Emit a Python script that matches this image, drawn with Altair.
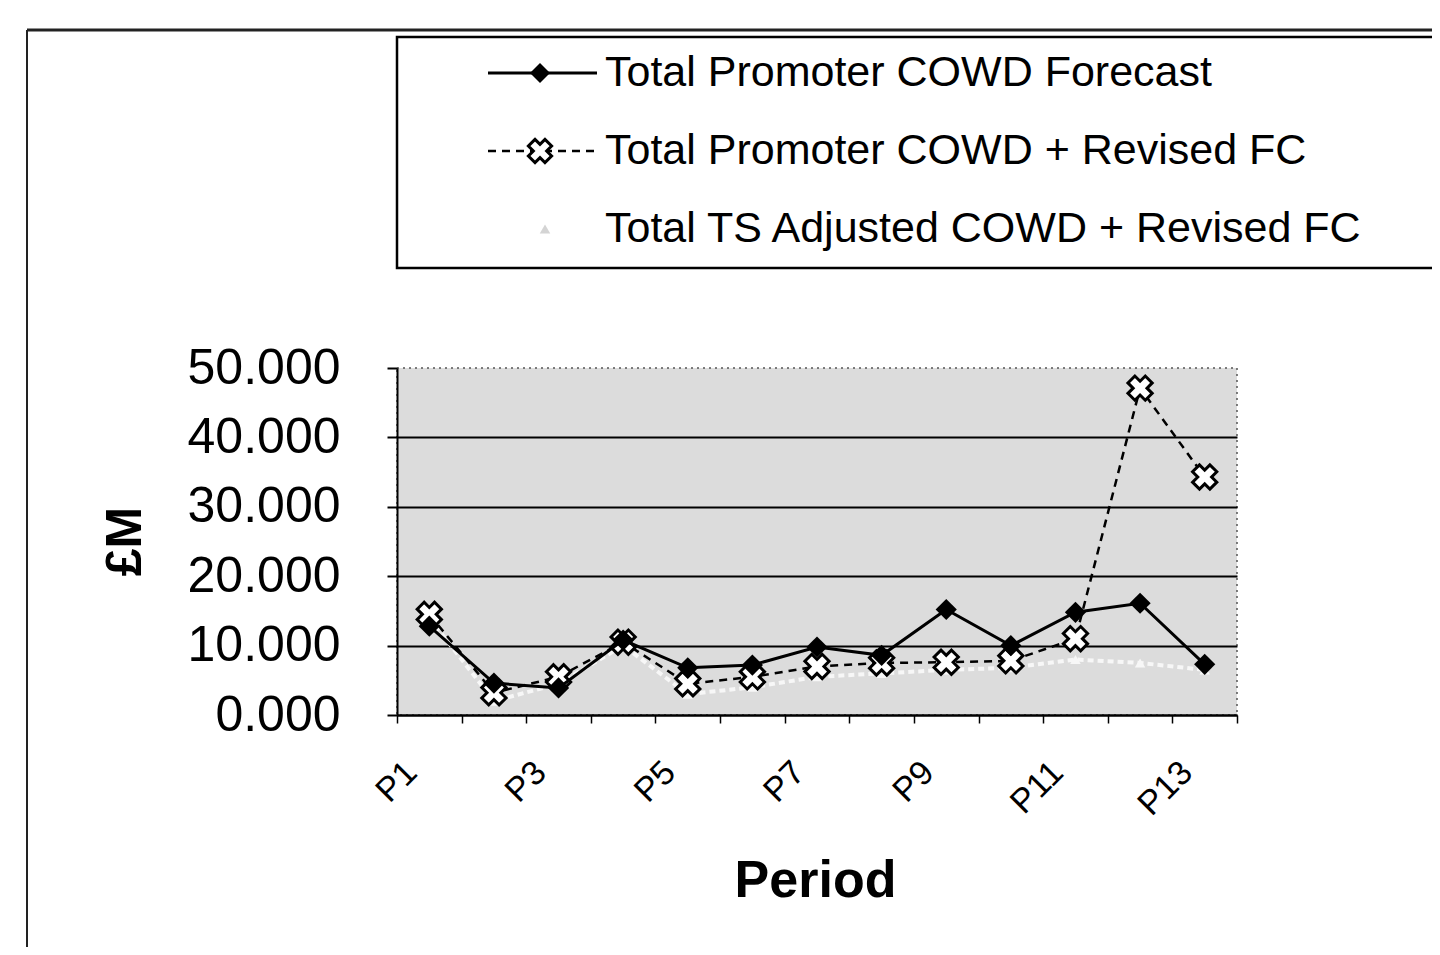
import altair as alt
import pandas as pd

# ---- data ----
periods = ["P1", "P2", "P3", "P4", "P5", "P6", "P7", "P8", "P9", "P10", "P11", "P12", "P13"]
forecast = [12.8, 4.6, 3.9, 10.8, 6.8, 7.2, 9.8, 8.6, 15.2, 10.0, 14.8, 16.1, 7.3]
revised = [14.5, 3.2, 5.5, 10.5, 4.5, 5.5, 7.0, 7.5, 7.6, 7.8, 11.0, 47.1, 34.3]
ts_adjusted = [14.0, 2.0, 4.5, 10.0, 3.0, 4.0, 5.5, 6.0, 6.5, 6.8, 8.0, 7.5, 6.5]
series_names = [
    "Total Promoter COWD Forecast",
    "Total Promoter COWD + Revised FC",
    "Total TS Adjusted COWD + Revised FC",
]
y_ticks = [0, 10, 20, 30, 40, 50]

FONT = "Liberation Sans"


def frame(vals):
    return pd.DataFrame({"period": periods, "value": vals})


one = pd.DataFrame({"k": [0]})

x_enc = alt.X(
    "period:N",
    sort=periods,
    bandPosition=0.5,
    scale=alt.Scale(type="band", domain=periods, paddingInner=0, paddingOuter=0),
    axis=alt.Axis(
        title="Period",
        titleFont=FONT,
        titleFontSize=52,
        titleFontWeight="bold",
        titleColor="black",
        titleX=418,
        titleY=165,
        titleAlign="center",
        titleBaseline="middle",
        labelAngle=-45,
        labelFont=FONT,
        labelFontSize=34,
        labelColor="black",
        labelPadding=32,
        labelOffset=-30,
        labelExpr="toNumber(slice(datum.label, 1)) % 2 == 1 ? datum.label : ''",
        tickBand="extent",
        tickSize=8,
        tickColor="black",
        tickWidth=1.5,
        domainColor="black",
        domainWidth=2,
        grid=False,
    ),
)

y_enc = alt.Y(
    "value:Q",
    scale=alt.Scale(domain=[0, 50], nice=False),
    axis=alt.Axis(
        values=y_ticks,
        format=".3f",
        title="£M",
        titleFont=FONT,
        titleFontSize=50,
        titleFontWeight="bold",
        titleColor="black",
        titleX=-272,
        titleY=173,
        titleAngle=-90,
        titleAlign="center",
        titleBaseline="middle",
        labelFont=FONT,
        labelFontSize=50,
        labelColor="black",
        labelPadding=47,
        tickSize=10,
        tickColor="black",
        tickWidth=2,
        domainColor="black",
        domainWidth=2,
        grid=True,
        gridColor="black",
        gridWidth=1.8,
        gridOpacity={"condition": {"test": "datum.value >= 50", "value": 0}, "value": 1},
    ),
)

ts_line = alt.Chart(frame(ts_adjusted)).mark_line(
    color="#f7f7f7", strokeWidth=4, strokeDash=[6, 4]
).encode(x=x_enc, y=y_enc)
ts_pts = alt.Chart(frame(ts_adjusted)).mark_point(
    shape="triangle-up", filled=True, color="#f7f7f7", size=110, opacity=1
).encode(x=x_enc, y=y_enc)

rev_line = alt.Chart(frame(revised)).mark_line(
    color="black", strokeWidth=2.5, strokeDash=[8, 6]
).encode(x=x_enc, y=y_enc)
rev_pts = alt.Chart(frame(revised)).mark_point(
    shape="cross", angle=45, filled=True, fill="white", stroke="black",
    strokeWidth=3, size=600, opacity=1
).encode(x=x_enc, y=y_enc)

fc_line = alt.Chart(frame(forecast)).mark_line(
    color="black", strokeWidth=3
).encode(x=x_enc, y=y_enc)
fc_pts = alt.Chart(frame(forecast)).mark_point(
    shape="diamond", filled=True, color="black", size=450, opacity=1
).encode(x=x_enc, y=y_enc)

# ---- outer frame and legend (decoration) ----
frame_left = alt.Chart(one).mark_rule(color="#222", strokeWidth=2).encode(
    x=alt.value(-370), y=alt.value(-338), y2=alt.value(620)
)
frame_top = alt.Chart(one).mark_rule(color="#222", strokeWidth=3).encode(
    x=alt.value(-370), x2=alt.value(1100), y=alt.value(-338)
)
legend_box = alt.Chart(one).mark_rect(fill="white", stroke="black", strokeWidth=2.5).encode(
    x=alt.value(0), x2=alt.value(1100), y=alt.value(-331), y2=alt.value(-100)
)

row_y = [-295, -217, -139]

leg1_line = alt.Chart(one).mark_rule(color="black", strokeWidth=3).encode(
    x=alt.value(91), x2=alt.value(200), y=alt.value(row_y[0])
)
leg1_pt = alt.Chart(one).mark_point(
    shape="diamond", filled=True, color="black", size=400, opacity=1
).encode(x=alt.value(143), y=alt.value(row_y[0]))

leg2_line = alt.Chart(one).mark_rule(color="black", strokeWidth=2.5, strokeDash=[8, 6]).encode(
    x=alt.value(91), x2=alt.value(200), y=alt.value(row_y[1])
)
leg2_pt = alt.Chart(one).mark_point(
    shape="cross", angle=45, filled=True, fill="white", stroke="black",
    strokeWidth=3, size=550, opacity=1
).encode(x=alt.value(143), y=alt.value(row_y[1]))

leg3_pt = alt.Chart(one).mark_point(
    shape="triangle-up", filled=True, color="#d4d4d4", size=110, opacity=1
).encode(x=alt.value(148), y=alt.value(row_y[2]))

legend_texts = [
    alt.Chart(one).mark_text(
        align="left", baseline="middle", font=FONT, fontSize=43, color="black"
    ).encode(x=alt.value(208), y=alt.value(row_y[i]), text=alt.value(series_names[i]))
    for i in range(3)
]

chart = alt.layer(
    ts_line, ts_pts, rev_line, rev_pts, fc_line, fc_pts,
    frame_left, frame_top, legend_box,
    leg1_line, leg1_pt, leg2_line, leg2_pt, leg3_pt,
    *legend_texts,
).properties(
    width=840,
    height=347,
    autosize=alt.AutoSizeParams(type="none"),
    padding={"left": 389, "top": 360, "right": 195, "bottom": 232},
    background="white",
).configure_view(
    fill="#dcdcdc", stroke="#555555", strokeDash=[2, 4], strokeWidth=1.5
)

chart.save("out.html", embed_options={"renderer": "svg", "actions": False})
